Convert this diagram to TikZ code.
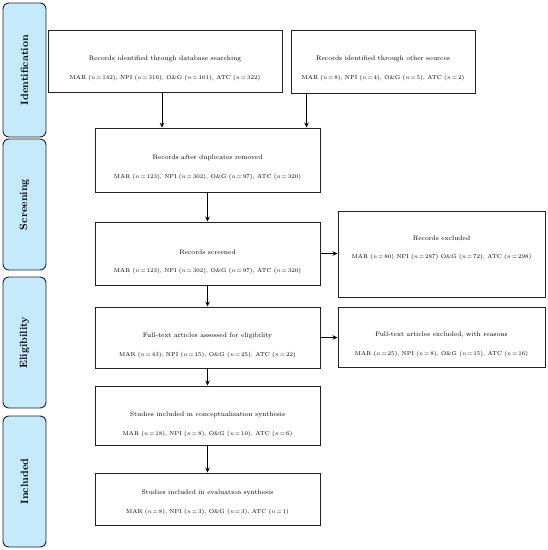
\documentclass[tikz,border=0pt]{standalone}
\usetikzlibrary{arrows.meta,positioning,calc}
\definecolor{stageBlue}{HTML}{C4EAFB}
\definecolor{edgeGrey}{HTML}{222222}
\newcommand{\cnt}[1]{(\textit{n}\,=\,#1)}

\begin{document}
\begin{tikzpicture}[
  x=1pt, y=-1pt,
  >={Stealth[length=5pt,width=4.5pt]},
  font=\fontsize{6.6bp}{8bp}\selectfont,
  stage/.style ={draw=edgeGrey, fill=stageBlue, rounded corners=6pt, line width=0.9pt,
                 minimum width=43pt, inner sep=0pt},
  stagetxt/.style={rotate=90, font=\fontsize{10.5bp}{12bp}\selectfont\bfseries},
  box/.style   ={draw=edgeGrey, fill=white, line width=0.9pt, align=center, inner sep=0pt},
  flow/.style  ={->, draw=black, line width=0.9pt},
]
\useasboundingbox (0,0) rectangle (548,550);

% heading over counts; #1 puts the counts baseline relative to the box centre,
% the counts line is set a touch smaller than the heading line
\newcommand{\two}[3]{\raisebox{#1}[0pt][0pt]{\shortstack{#2\\[10pt]{\fontsize{5.7bp}{8bp}\selectfont #3}}}}

% ---- stages down the left edge ----------------------------------------------------
\node[stage, minimum height=134pt] (idn) at (24.5,70) {};
\node[stagetxt] at (idn.center) {Identification};
\node[stage, minimum height=131pt] (scr) at (24.5,204.5) {};
\node[stagetxt] at (scr.center) {Screening};
\node[stage, minimum height=131pt] (elg) at (24.5,342.5) {};
\node[stagetxt] at (elg.center) {Eligibility};
\node[stage, minimum height=131pt] (inc) at (24.5,481.5) {};
\node[stagetxt] at (inc.center) {Included};

% ---- the flow boxes ----------------------------------------------------------------
\node[box, minimum width=234pt, minimum height=62pt] (dbs) at (165,61)
  {\two{-18pt}{Records identified through database searching}
   {MAR \cnt{142}, NPI \cnt{316}, O\&G \cnt{101}, ATC \cnt{322}}};
\node[box, minimum width=184pt, minimum height=63pt] (oth) at (383,61.5)
  {\two{-17.5pt}{Records identified through other sources}
   {MAR \cnt{8}, NPI \cnt{4}, O\&G \cnt{5}, ATC \cnt{2}}};
\node[box, minimum width=225pt, minimum height=64pt] (dup) at (207.5,160)
  {\two{-18pt}{Records after duplicates removed}
   {MAR \cnt{123}, NPI \cnt{302}, O\&G \cnt{97}, ATC \cnt{320}}};
\node[box, minimum width=225pt, minimum height=63pt] (scd) at (207.5,253.5)
  {\two{-18.5pt}{Records screened}
   {MAR \cnt{123}, NPI \cnt{302}, O\&G \cnt{97}, ATC \cnt{320}}};
\node[box, minimum width=207pt, minimum height=86pt] (rex) at (441.5,254)
  {\two{-4pt}{Records excluded}
   {MAR \cnt{80} NPI \cnt{287} O\&G \cnt{72}, ATC \cnt{298}}};
\node[box, minimum width=225pt, minimum height=61pt] (fta) at (207.5,337.5)
  {\two{-18.5pt}{Full-text articles assessed for eligibility}
   {MAR \cnt{43}, NPI \cnt{15}, O\&G \cnt{25}, ATC \cnt{22}}};
\node[box, minimum width=207pt, minimum height=60pt] (ftx) at (441.5,337)
  {\two{-18pt}{Full-text articles excluded, with reasons}
   {MAR \cnt{25}, NPI \cnt{8}, O\&G \cnt{15}, ATC \cnt{16}}};
\node[box, minimum width=225pt, minimum height=59pt] (cns) at (207.5,415.5)
  {\two{-19.5pt}{Studies included in conceptualisation synthesis}
   {MAR \cnt{18}, NPI \cnt{8}, O\&G \cnt{10}, ATC \cnt{6}}};
\node[box, minimum width=225pt, minimum height=52pt] (evl) at (207.5,499)
  {\two{-14pt}{Studies included in evaluation synthesis}
   {MAR \cnt{8}, NPI \cnt{3}, O\&G \cnt{3}, ATC \cnt{1}}};

% ---- connectors --------------------------------------------------------------------
\draw[flow] ([xshift=-3pt]dbs.south) -- ([xshift=-3pt]dbs.south |- dup.north);
\draw[flow] ([xshift=16pt]oth.south west) -- ([xshift=16pt]oth.south west |- dup.north);
\draw[flow] (dup) -- (scd);
\draw[flow] (scd) -- (scd -| rex.west);
\draw[flow] (scd) -- (fta);
\draw[flow] (fta) -- (fta -| ftx.west);
\draw[flow] (fta) -- (cns);
\draw[flow] (cns) -- (evl);

\end{tikzpicture}
\end{document}
